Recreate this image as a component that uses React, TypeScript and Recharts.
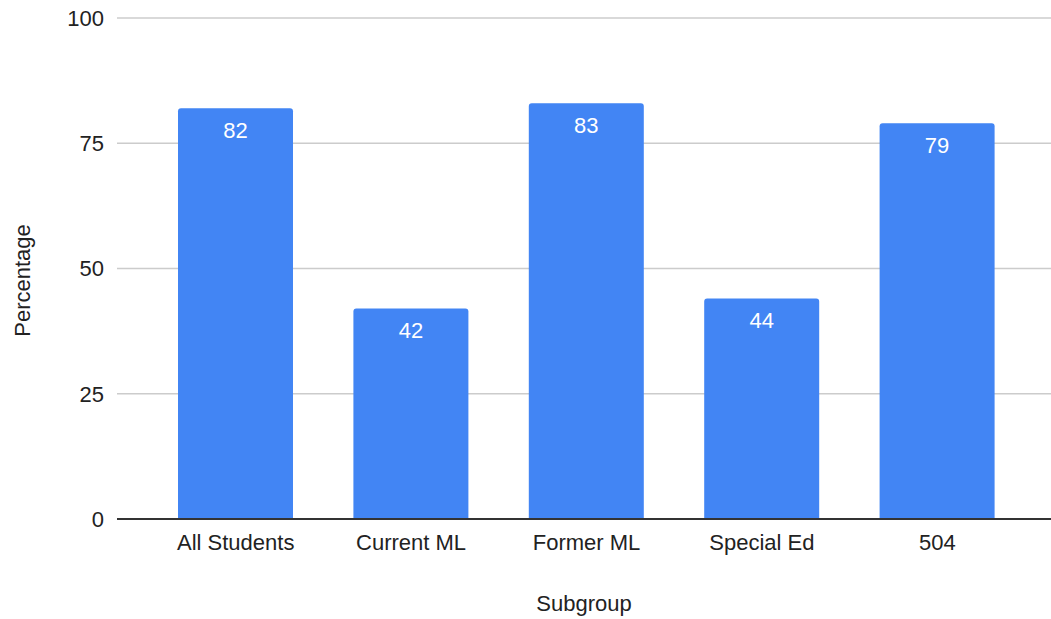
import React from 'react';
import { BarChart, Bar, XAxis, YAxis, CartesianGrid, LabelList } from 'recharts';

const categories = ['All Students', 'Current ML', 'Former ML', 'Special Ed', '504'];
const percentages = [82, 42, 83, 44, 79];
const yTicks = [0, 25, 50, 75, 100];

const data = categories.map((c, i) => ({ name: c, value: percentages[i] }));

const FONT = '"Liberation Sans", Arial, Helvetica, sans-serif';

const YLabel = (props: any) => {
  const vb = props.viewBox || {};
  const cy = vb.y + vb.height / 2 + 12;
  return (
    <text x={22} y={cy} transform={`rotate(-90, 22, ${cy})`} textAnchor="middle" dominantBaseline="central"
      fontFamily={FONT} fontSize={22} fill="#222">Percentage</text>
  );
};

export default function App() {
  return (
    <div style={{ position: 'absolute', left: 0, top: 0, width: 1051, height: 619, background: '#fff' }}>
      <BarChart width={1051} height={619} data={data} margin={{ top: 18, right: 0, left: 0, bottom: 0 }}>
        <CartesianGrid vertical={false} stroke="#cccccc" strokeWidth={1.5} />
        <XAxis dataKey="name" height={100} padding={{ left: 31, right: 26 }} tickLine={false}
          axisLine={{ stroke: '#333', strokeWidth: 2 }} tickMargin={9}
          tick={{ fontFamily: FONT, fontSize: 22, fill: '#222' }}
          label={{ value: 'Subgroup', position: 'insideBottom', offset: 8, fontFamily: FONT, fontSize: 22, fill: '#222' }} />
        <YAxis width={117} domain={[0, 100]} ticks={yTicks} axisLine={false} tickLine={false} tickMargin={7}
          tick={{ fontFamily: FONT, fontSize: 22, fill: '#222' }} label={<YLabel />} />
        <Bar dataKey="value" fill="#4285F4" barSize={115} radius={[3, 3, 0, 0]} isAnimationActive={false}>
          <LabelList dataKey="value" position="insideTop" offset={14} fill="#ffffff"
            style={{ fontFamily: FONT, fontSize: 22 }} />
        </Bar>
      </BarChart>
    </div>
  );
}
